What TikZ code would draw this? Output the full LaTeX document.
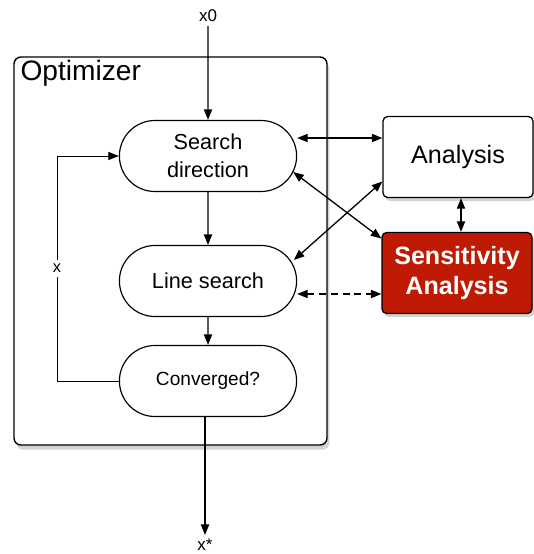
\documentclass[tikz,border=0pt]{standalone}
\usepackage{fontspec}
\setmainfont{Liberation Sans}
\usetikzlibrary{shapes.misc,shadows,arrows.meta}
\definecolor{sensred}{RGB}{190,26,4}

\begin{document}
\begin{tikzpicture}[x=0.03cm,y=-0.03cm,>={Triangle[length=9pt,width=7pt]}]
				\tikzset{
					stepnode/.style={rounded rectangle, draw, line width=1pt, fill=white,
						minimum width=5.55cm, minimum height=2.13cm, align=center,
						font=\fontsize{18.5}{24}\selectfont},
					toolbox/.style={rectangle, rounded corners=4pt, draw, line width=1.1pt, fill=white,
						minimum width=4.5cm, minimum height=2.43cm, align=center,
						drop shadow={shadow xshift=2pt, shadow yshift=-3pt, opacity=0.35},
						font=\fontsize{21.5}{25}\selectfont},
					link/.style={<->, line width=1.1pt},
					flow/.style={->, line width=1.1pt}
				}
				\useasboundingbox (0,0) rectangle (534,554);
				
				%% OPTIMIZER FRAME
				\node[draw, line width=1.2pt, rounded corners=6pt, fill=white, minimum width=9.39cm, minimum height=11.64cm,
					drop shadow={shadow xshift=2pt, shadow yshift=-4pt, opacity=0.35}] (Opt) at (170.5,251) {};
				\node[anchor=north west, inner sep=2pt, font=\fontsize{24}{28}\selectfont] (OptTitle) at (18,58) {Optimizer};
				
				%% STEPS
				\node[stepnode] (Search) at (208,156) {Search\\direction};
				\node[stepnode] (Line) at (208,281) {Line search};
				\node[stepnode, font=\fontsize{16.3}{19}\selectfont] (Conv) at (208,381) {Converged?};
				
				%% ANALYSES
				\node[toolbox] (Ana) at (458,157) {Analysis};
				\node[toolbox, fill=sensred, text=white, font=\fontsize{21.4}{26}\selectfont\bfseries] (Sens) at (457,273) {Sensitivity\\Analysis};
				
				%% INPUT / OUTPUT
				\node[font=\fontsize{14.5}{17}\selectfont] (X0) at (208,16) {x0};
				\node[font=\fontsize{14.5}{17}\selectfont] (XStar) at (205,545) {x*};
				\coordinate (Loop) at (57,381);
				
				\draw[flow] (X0) -- (Search);
				\draw[flow] (Search) -- (Line);
				\draw[flow] (Line) -- (Conv);
				\draw[flow] (Conv.south -| XStar) -- (XStar);
				\draw[flow, line width=0.8pt] (Conv.west) -- (Loop) |- node[pos=0.25, fill=white, font=\fontsize{14}{17}\selectfont] {x} (Search.west);
				
				\draw[link] (Search.east |- 0,138) -- (Ana.west |- 0,138);
				\draw[link] ([xshift=-0.12cm]Search.east |- 0,172) -- ([yshift=-0.2cm]Sens.north west);
				\draw[link] ([xshift=-0.1cm]Line.east |- 0,260) -- ([yshift=0.5cm]Ana.south west);
				\draw[link, dash pattern=on 6pt off 4pt] (Line.east |- 0,294) -- (Sens.west |- 0,294);
				\draw[link] (Ana.south -| 461,0) -- (Sens.north -| 461,0);
				
			\end{tikzpicture}
\end{document}
